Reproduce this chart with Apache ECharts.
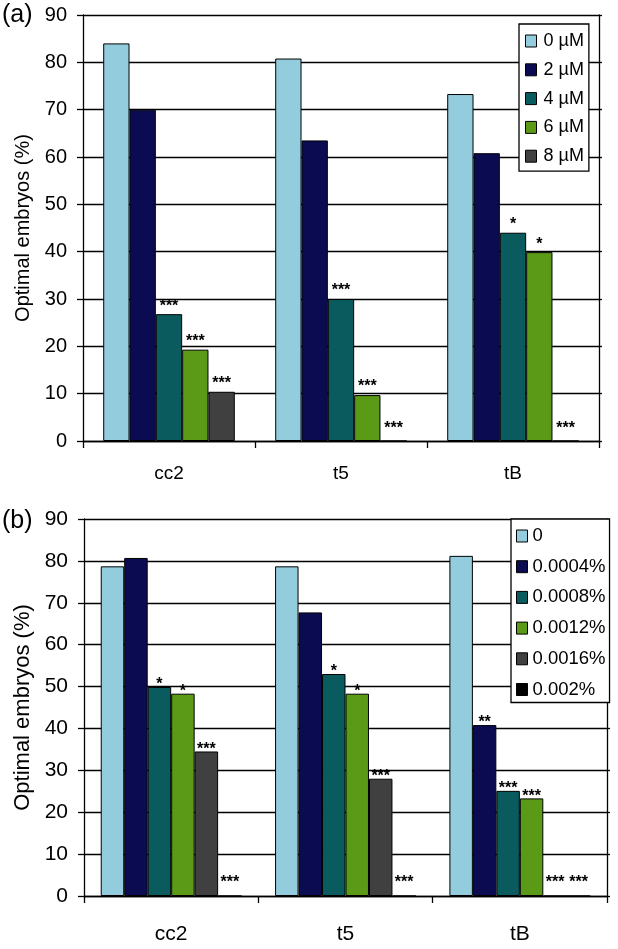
<!DOCTYPE html>
<html><head><meta charset="utf-8">
<script src="https://cdn.jsdelivr.net/npm/echarts@6/dist/echarts.min.js"></script>
<style>html,body{margin:0;padding:0;background:#fff}#c{width:618px;height:949px}</style>
</head><body><div id="c"></div>
<script>
// ---------- data ----------
const categories = ['cc2', 't5', 'tB'];
const yTicks = [0, 10, 20, 30, 40, 50, 60, 70, 80, 90];

// panel (a)
const namesA = ['0 µM', '2 µM', '4 µM', '6 µM', '8 µM'];
const a0 = [84.0, 80.8, 73.3];
const a2 = [70.0, 63.5, 60.8];
const a4 = [26.8, 30.0, 44.0];
const a6 = [19.3, 9.7, 39.9];
const a8 = [10.4, 0, 0];
const sigA0 = ['', '', ''];
const sigA2 = ['', '', ''];
const sigA4 = ['***', '***', '*'];
const sigA6 = ['***', '***', '*'];
const sigA8 = ['***', '***', '***'];

// panel (b)
const namesB = ['0', '0.0004%', '0.0008%', '0.0012%', '0.0016%', '0.002%'];
const b0 = [78.7, 78.7, 81.2];
const b1 = [80.7, 67.7, 40.8];
const b2 = [49.9, 53.0, 25.1];
const b3 = [48.3, 48.3, 23.3];
const b4 = [34.5, 28.0, 0];
const b5 = [0, 0, 0];
const sigB0 = ['', '', ''];
const sigB1 = ['', '', '**'];
const sigB2 = ['*', '*', '***'];
const sigB3 = ['*', '*', '***'];
const sigB4 = ['***', '***', '***'];
const sigB5 = ['***', '***', '***'];

// ---------- styling ----------
const colorsA = ['#93cddd', '#0b0b52', '#0a5b5e', '#5b9a17', '#404040'];
const colorsB = ['#93cddd', '#0b0b52', '#0a5b5e', '#5b9a17', '#404040', '#000000'];
const FONT = "'Liberation Sans', Arial, sans-serif";

const chart = echarts.init(document.getElementById('c'), null, {renderer: 'canvas'});

function mkSeries(name, vals, sigs, color, xi, gapCat, nzDist, zDist) {
  return {
    type: 'bar', name: name, xAxisIndex: xi, yAxisIndex: xi * 2,
    barGap: '0%', barCategoryGap: gapCat,
    itemStyle: {color: color, borderColor: '#000', borderWidth: 1},
    label: {
      show: true, position: 'top', color: '#000', fontFamily: FONT,
      fontSize: 16, fontWeight: 'bold',
      formatter: p => sigs[p.dataIndex]
    },
    data: vals.map(v => ({value: v, label: {distance: v === 0 ? zDist : nzDist}})),
    animation: false
  };
}

function yAxes(gi, fs, ff) {
  return [{
    type: 'value', gridIndex: gi, min: 0, max: 90, interval: 10,
    axisLine: {show: true, lineStyle: {color: '#000', width: 1.3}},
    axisTick: {show: true, length: 6, lineStyle: {color: '#000', width: 1.3}},
    axisLabel: {fontSize: fs, fontFamily: ff, color: '#000', margin: 16,
      formatter: v => yTicks.indexOf(v) >= 0 ? String(v) : ''},
    splitLine: {show: true, lineStyle: {color: '#000', width: 1.3}},
    name: 'Optimal embryos (%)', nameLocation: 'middle',
    nameGap: gi === 0 ? 42 : 44,
    nameTextStyle: {fontSize: gi === 0 ? 20 : 22, fontFamily: FONT, color: '#000'}
  }, {
    type: 'value', gridIndex: gi, min: 0, max: 90, interval: 10, position: 'right',
    axisLine: {show: true, lineStyle: {color: '#000', width: 1.3}},
    axisTick: {show: true, length: 3, lineStyle: {color: '#000', width: 1.3}},
    axisLabel: {show: false}, splitLine: {show: false}
  }];
}

const option = {
  backgroundColor: '#fff',
  title: [
    {text: '(a)', left: 2, top: 3, padding: 0, textStyle: {fontSize: 25, fontWeight: 'normal', fontFamily: FONT, color: '#000'}},
    {text: '(b)', left: 2, top: 509, padding: 0, textStyle: {fontSize: 25, fontWeight: 'normal', fontFamily: FONT, color: '#000'}}
  ],
  grid: [
    {left: 83, right: 19, top: 15, bottom: 508},
    {left: 84, right: 11, top: 519, bottom: 53}
  ],
  xAxis: [
    {type: 'category', gridIndex: 0, data: categories,
      axisLine: {lineStyle: {color: '#000', width: 1.3}},
      axisTick: {show: true, length: 7, lineStyle: {color: '#000', width: 1.3}},
      axisLabel: {fontSize: 19, fontFamily: FONT, color: '#000', margin: 23}},
    {type: 'category', gridIndex: 1, data: categories,
      axisLine: {lineStyle: {color: '#000', width: 1.3}},
      axisTick: {show: true, length: 7, lineStyle: {color: '#000', width: 1.3}},
      axisLabel: {fontSize: 21, fontFamily: FONT, color: '#000', margin: 28}}
  ],
  yAxis: [...yAxes(0, 20, FONT), ...yAxes(1, 21, FONT)],
  legend: [
    {data: namesA, orient: 'vertical', left: 519, top: 24, itemWidth: 11, itemHeight: 12,
      itemGap: 10.8, padding: [8, 5, 6, 6], borderColor: '#000', borderWidth: 1.3,
      backgroundColor: '#fff', icon: 'rect', itemStyle: {borderColor: '#000', borderWidth: 1},
      textStyle: {fontSize: 18, lineHeight: 18, fontFamily: FONT, color: '#000', padding: [0, 0, 0, 2]}},
    {data: namesB, orient: 'vertical', left: 511, top: 519, itemWidth: 11, itemHeight: 12,
      itemGap: 10.7, padding: [7, 4, 3, 5], borderColor: '#000', borderWidth: 1.3,
      backgroundColor: '#fff', icon: 'rect', itemStyle: {borderColor: '#000', borderWidth: 1},
      textStyle: {fontSize: 18.5, lineHeight: 20, fontFamily: FONT, color: '#000'}}
  ],
  series: [
    mkSeries(namesA[0], a0, sigA0, colorsA[0], 0, '23.5%', 0, 4),
    mkSeries(namesA[1], a2, sigA2, colorsA[1], 0, '23.5%', 0, 4),
    mkSeries(namesA[2], a4, sigA4, colorsA[2], 0, '23.5%', 0, 4),
    mkSeries(namesA[3], a6, sigA6, colorsA[3], 0, '23.5%', 0, 4),
    mkSeries(namesA[4], a8, sigA8, colorsA[4], 0, '23.5%', 0, 4),
    mkSeries(namesB[0], b0, sigB0, colorsB[0], 1, '19.2%', -6, 5),
    mkSeries(namesB[1], b1, sigB1, colorsB[1], 1, '19.2%', -6, 5),
    mkSeries(namesB[2], b2, sigB2, colorsB[2], 1, '19.2%', -6, 5),
    mkSeries(namesB[3], b3, sigB3, colorsB[3], 1, '19.2%', -6, 5),
    mkSeries(namesB[4], b4, sigB4, colorsB[4], 1, '19.2%', -6, 5),
    mkSeries(namesB[5], b5, sigB5, colorsB[5], 1, '19.2%', -6, 5)
  ]
};
chart.setOption(option);
</script></body></html>
